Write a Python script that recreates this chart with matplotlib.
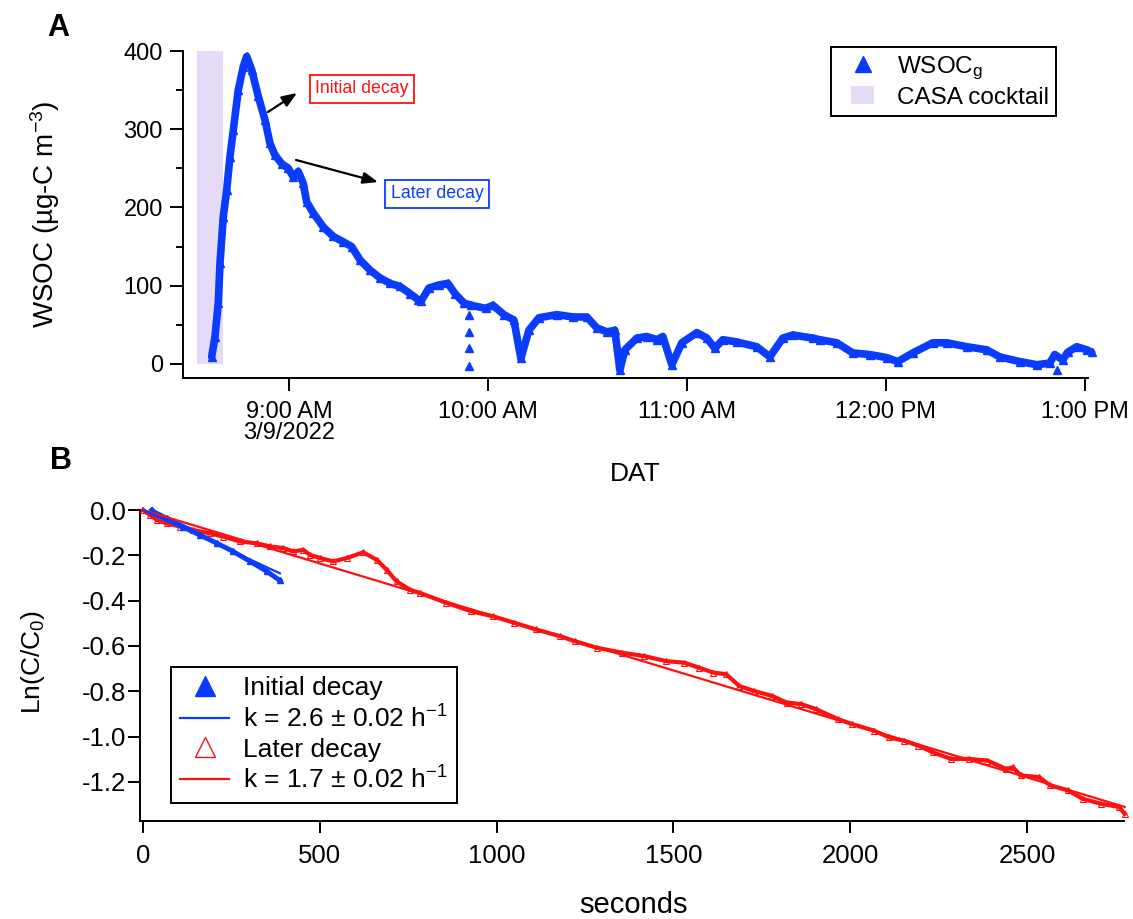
import matplotlib
matplotlib.use('Agg')
import matplotlib.pyplot as plt
from matplotlib.patches import Patch, Rectangle
from matplotlib.lines import Line2D
from matplotlib.legend_handler import HandlerPatch
import pandas as pd

plt.rcParams['font.family'] = ['Liberation Sans', 'DejaVu Sans']
plt.rcParams['mathtext.default'] = 'regular'

# ---------------- data: panel A (minutes after 08:00, 3/9/2022) ----------------
wsoc_minutes = [36.69, 37.69, 38.68, 39.20, 40.19, 41.22, 42.21, 43.21, 44.71, 46.22, 47.25,
                48.75, 50.74, 52.76, 54.27, 55.78, 57.80, 59.79, 61.30, 62.80, 64.31, 65.34,
                67.33, 70.34, 73.36, 76.37, 78.90, 81.41, 84.42, 87.44, 90.45, 93.47, 96.48,
                98.99, 99.80, 102.21, 105.23, 107.94, 110.05, 112.76, 114.87, 119.40, 121.51,
                124.82, 127.84, 129.95, 132.36, 135.38, 140.80, 145.63, 149.85, 152.87, 155.88,
                158.29, 159.80, 161.31, 164.93, 167.94, 170.96, 172.76, 175.48, 178.49, 183.02,
                186.03, 188.44, 190.86, 195.08, 201.11, 205.03, 208.95, 211.96, 217.99, 220.10,
                225.23, 230.05, 235.18, 240.30, 243.62, 248.14, 254.17, 258.39, 264.42, 270.45,
                274.37, 280.40, 285.53, 289.45, 290.96, 293.37, 294.88, 297.59, 300.61, 302.11]
wsoc_values = [9, 35, 78, 129, 188, 222, 265, 299, 350, 380, 393,
               376, 342, 312, 282, 267, 256, 250, 239, 246, 231, 207,
               193, 175, 163, 156, 150, 133, 120, 110, 103, 99, 90,
               82, 80, 97, 101, 103, 90, 78, 75, 71, 75,
               63, 56, 7, 43, 59, 63, 60, 60, 46, 41,
               43, -8, 18, 33, 35, 31, 35, -1, 27, 40,
               33, 20, 31, 28, 22, 9, 33, 37, 33, 31,
               27, 14, 12, 8, 3, 14, 27, 27, 22, 18,
               9, 3, -1, 1, 12, 5, 15, 22, 18, 15]
outlier_minutes = [114.27, 114.27, 114.27, 114.27, 291.56]
outlier_values = [63, 41, 20, -3, -8]
casa_start_min, casa_end_min = 32.3, 40.1
casa_low, casa_high = 0, 400

top_tick_times = ['09:00', '10:00', '11:00', '12:00', '13:00']
top_tick_labels = ['9:00 AM\n3/9/2022', '10:00 AM', '11:00 AM', '12:00 PM', '1:00 PM']
top_yticks = [0, 100, 200, 300, 400]

# ---------------- data: panel B ----------------
init_sec = [25, 29, 67, 114, 161, 208, 255, 303, 350, 387]
init_ln = [0.0, -0.007, -0.037, -0.073, -0.110, -0.146, -0.183, -0.227, -0.271, -0.311]
later_sec = [0, 20, 39, 67, 105, 142, 189, 227, 274, 322, 359, 397, 425, 453, 472, 501, 538,
             576, 623, 661, 689, 717, 755, 783, 858, 928, 989, 1050, 1110, 1179, 1221, 1283,
             1355, 1417, 1479, 1530, 1572, 1613, 1649, 1686, 1728, 1779, 1820, 1861, 1903,
             1965, 2005, 2067, 2110, 2151, 2192, 2234, 2285, 2336, 2388, 2440, 2460, 2482,
             2534, 2565, 2616, 2657, 2709, 2760, 2776]
later_ln = [0.0, -0.022, -0.044, -0.059, -0.073, -0.088, -0.103, -0.117, -0.139, -0.147,
            -0.161, -0.168, -0.183, -0.176, -0.198, -0.212, -0.227, -0.212, -0.187, -0.220,
            -0.264, -0.315, -0.352, -0.366, -0.410, -0.447, -0.469, -0.498, -0.527, -0.557,
            -0.579, -0.608, -0.630, -0.645, -0.667, -0.674, -0.696, -0.718, -0.725, -0.777,
            -0.799, -0.821, -0.850, -0.857, -0.879, -0.923, -0.945, -0.974, -1.004, -1.018,
            -1.040, -1.070, -1.099, -1.099, -1.106, -1.143, -1.136, -1.172, -1.179, -1.216,
            -1.238, -1.275, -1.297, -1.311, -1.341]
k_initial, k_later = 2.6, 1.7          # h^-1
fit_initial_range = [0, 387]
fit_later_range = [0, 2776]
bot_xticks = [0, 500, 1000, 1500, 2000, 2500]
bot_yticks = [0.0, -0.2, -0.4, -0.6, -0.8, -1.0, -1.2]
bot_ytick_labels = ['0.0', '-0.2', '-0.4', '-0.6', '-0.8', '-1.0', '-1.2']

BLUE = '#0a3cff'
RED = '#ff1010'
LAV = '#e6dbf6'

base = pd.Timestamp('2022-03-09 08:00')
def to_time(mins):
    return base + pd.to_timedelta(pd.Series(mins, dtype=float), unit='min')

fig = plt.figure(figsize=(11.33, 9.19), dpi=100)

# ---------------- panel A ----------------
ax1 = fig.add_axes([183/1133, 1-378/919, 905/1133, 327/919])
t = to_time(wsoc_minutes)
casa = to_time([casa_start_min, casa_end_min])
ax1.fill_between(casa, casa_low, casa_high, color=LAV, lw=0, zorder=1)
ax1.plot(t, wsoc_values, color=BLUE, lw=5.5, solid_joinstyle='round', solid_capstyle='round',
         zorder=3, clip_on=False)
ax1.plot(t, wsoc_values, ls='none', marker='^', ms=6, color=BLUE, zorder=3, clip_on=False)
ax1.plot(to_time(outlier_minutes), outlier_values, ls='none', marker='^', ms=6, color=BLUE,
         zorder=3, clip_on=False)
ax1.set_ylim(-18, 400)
ax1.set_xlim(base + pd.Timedelta(minutes=28.04), base + pd.Timedelta(minutes=301.0))
ax1.set_yticks(top_yticks)
ax1.set_yticks([50, 150, 250, 350], minor=True)
ax1.set_xticks(list(pd.to_datetime(['2022-03-09 ' + s for s in top_tick_times])))
ax1.set_xticklabels(top_tick_labels, linespacing=0.95)
ax1.xaxis.set_minor_locator(matplotlib.ticker.NullLocator())
for s in ['top', 'right']:
    ax1.spines[s].set_visible(False)
for s in ['left', 'bottom']:
    ax1.spines[s].set_linewidth(1.4)
ax1.tick_params(which='major', direction='out', length=9.5, width=1.4, labelsize=17, pad=7)
ax1.tick_params(which='minor', direction='out', length=5, width=1.4)
ax1.tick_params(axis='y', pad=5)

# annotations
ax1.text(0.1978, 0.8838, 'Initial decay', transform=ax1.transAxes, color=RED, fontsize=12.8,
         ha='center', va='center',
         bbox=dict(boxstyle='square,pad=0.3', fc='white', ec=RED, lw=1.3))
ax1.text(0.2807, 0.5627, 'Later decay', transform=ax1.transAxes, color=BLUE, fontsize=12.8,
         ha='center', va='center',
         bbox=dict(boxstyle='square,pad=0.3', fc='white', ec=BLUE, lw=1.3))
arrow = dict(arrowstyle='-|>,head_length=0.9,head_width=0.35', color='black', lw=1.6,
             shrinkA=0, shrinkB=0, mutation_scale=10)
ax1.annotate('', xy=(0.1260, 0.8716), xytext=(0.0939, 0.8135), xycoords='axes fraction',
             textcoords='axes fraction', arrowprops=arrow)
ax1.annotate('', xy=(0.2155, 0.5994), xytext=(0.1249, 0.6667), xycoords='axes fraction',
             textcoords='axes fraction', arrowprops=arrow)


def small_square(legend, orig_handle, xdescent, ydescent, width, height, fontsize):
    w, h = 16.5, 12.5
    return Rectangle((-xdescent + (width - w) / 2, -ydescent + (height - h) / 2), w, h)

h1 = [Line2D([], [], ls='none', marker='^', ms=12, color=BLUE),
      Patch(facecolor=LAV, edgecolor='none')]
leg1 = ax1.legend(h1, ['WSOC$_g$', 'CASA cocktail'], loc='upper right',
                  bbox_to_anchor=(0.9646, 1.012), borderaxespad=0, fontsize=17.5,
                  frameon=True, fancybox=False, edgecolor='black', framealpha=1,
                  handlelength=2.0, handletextpad=0.4, borderpad=0.3, labelspacing=0.2,
                  handler_map={Patch: HandlerPatch(patch_func=small_square)})
leg1.get_frame().set_linewidth(1.4)

# ---------------- panel B ----------------
ax2 = fig.add_axes([140/1133, 1-821/919, 984/1133, 311/919])
ax2.plot(later_sec, later_ln, color=RED, lw=3, marker='^', ms=4.5, mfc='none', mec=RED,
         mew=0.8, zorder=3, clip_on=False)
ax2.plot(init_sec, init_ln, color=BLUE, lw=3.5, marker='^', ms=4, zorder=4, clip_on=False)
ax2.plot(fit_later_range, [-k_later * s / 3600 for s in fit_later_range], color=RED, lw=1.6,
         zorder=5, clip_on=False)
ax2.plot(fit_initial_range, [-k_initial * s / 3600 for s in fit_initial_range], color=BLUE,
         lw=1.6, zorder=5, clip_on=False)
ax2.set_xlim(-8.5, 2774)
ax2.set_ylim(-1.373, 0.0)
ax2.set_xticks(bot_xticks)
ax2.set_yticks(bot_yticks)
ax2.set_yticklabels(bot_ytick_labels)
for s in ['top', 'right']:
    ax2.spines[s].set_visible(False)
for s in ['left', 'bottom']:
    ax2.spines[s].set_linewidth(1.4)
ax2.tick_params(direction='out', length=8.5, width=1.4, labelsize=18.5)
ax2.tick_params(axis='y', pad=1.5)
ax2.tick_params(axis='x', pad=8)

h2 = [Line2D([], [], ls='none', marker='^', ms=14, color=BLUE),
      Line2D([], [], color=BLUE, lw=1.6),
      Line2D([], [], ls='none', marker='^', ms=14, mfc='none', mec=RED, mew=1.0),
      Line2D([], [], color=RED, lw=1.6)]
l2 = ['Initial decay', 'k = 2.6 ± 0.02 h$^{-1}$', 'Later decay', 'k = 1.7 ± 0.02 h$^{-1}$']
leg2 = ax2.legend(h2, l2, loc='lower left', bbox_to_anchor=(0.0315, 0.058), borderaxespad=0,
                  fontsize=19, frameon=True, fancybox=False, edgecolor='black', framealpha=1,
                  handlelength=1.86, handletextpad=0.5, borderpad=0.35, labelspacing=0.19)
leg2.get_frame().set_linewidth(1.4)

# ---------------- labels ----------------
fig.text(45/1133, 1-214/919, 'WSOC (µg-C m$^{-3}$)', rotation=90, ha='center', va='center',
         fontsize=20)
fig.text(635/1133, 1-474/919, 'DAT', ha='center', va='center', fontsize=19)
fig.text(33/1133, 1-662/919, 'Ln(C/C$_0$)', rotation=90, ha='center', va='center', fontsize=19)
fig.text(633/1133, 1-905/919, 'seconds', ha='center', va='center', fontsize=21)
fig.text(58/1133, 1-28/919, 'A', ha='center', va='center', fontsize=22, fontweight='bold')
fig.text(61/1133, 1-461/919, 'B', ha='center', va='center', fontsize=22, fontweight='bold')

fig.savefig('out.png', dpi=100)
